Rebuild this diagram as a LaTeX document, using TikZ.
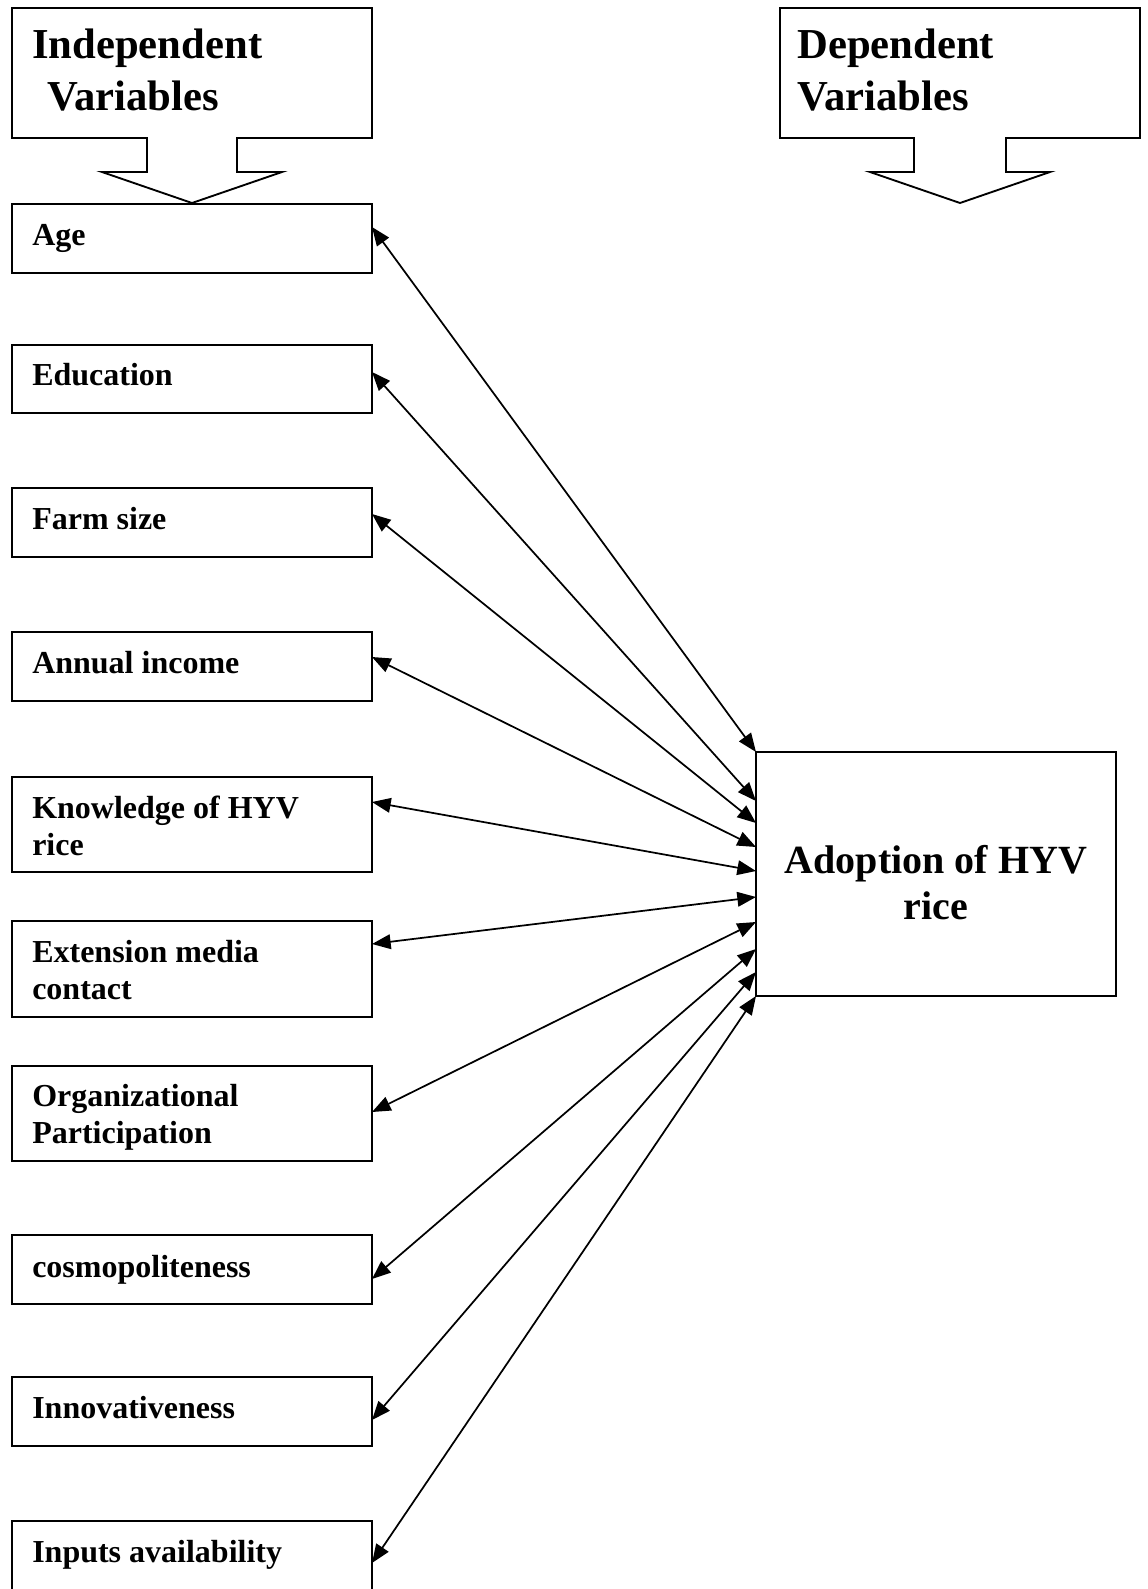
\documentclass[tikz,border=0pt]{standalone}
\usepackage{fontspec}
\setmainfont{Liberation Serif}
\usetikzlibrary{arrows.meta,calc,fit}
\begin{document}
\begin{tikzpicture}[x=0.75pt,y=-0.75pt,
  box/.style={draw, line width=1.6pt, inner sep=0pt, outer sep=0pt},
  callout/.style={draw, line width=1.4pt, line join=miter},
  item/.style={inner sep=0pt, anchor=base west, align=left, font=\fontsize{24}{27.4}\selectfont\bfseries},
  titletext/.style={inner sep=0pt, anchor=base west, align=left, font=\fontsize{32}{39}\selectfont\bfseries},
  bigtext/.style={inner sep=0pt, anchor=base, align=center, font=\fontsize{30}{34.5}\selectfont\bfseries},
  link/.style={{Triangle[length=14pt,width=11pt]}-{Triangle[length=14pt,width=11pt]}, line width=1.3pt}]
\useasboundingbox (0,0) rectangle (1147,1589);

% callout shapes
\draw[callout] (12,8) -- (372,8) -- (372,138) -- (237,138) -- (237,172) -- (282,172) -- (192,203) -- (102,172) -- (147,172) -- (147,138) -- (12,138) -- cycle;
\draw[callout] (780,8) -- (1140,8) -- (1140,138) -- (1006,138) -- (1006,172) -- (1050,172) -- (960,203) -- (870,172) -- (914,172) -- (914,138) -- (780,138) -- cycle;
% multi-line texts: base anchor = baseline of the last line
\node[titletext] (tind) at (32,110) {Independent\\\hspace*{11.25pt}Variables};
\node[titletext] (tdep) at (797,110) {Dependent\\Variables};

% boxes
\node[box, fit={(12,204)(372,273)}] (age) {};
\node[box, fit={(12,345)(372,413)}] (edu) {};
\node[box, fit={(12,488)(372,557)}] (farm) {};
\node[box, fit={(12,632)(372,701)}] (inc) {};
\node[box, fit={(12,777)(372,872)}] (know) {};
\node[box, fit={(12,921)(372,1017)}] (ext) {};
\node[box, fit={(12,1066)(372,1161)}] (org) {};
\node[box, fit={(12,1235)(372,1304)}] (cosmo) {};
\node[box, fit={(12,1377)(372,1446)}] (innov) {};
\node[box, fit={(12,1521)(372,1591)}] (inp) {};
\node[box, fit={(756,752)(1116,996)}] (adopt) {};

% texts
\node[item] (lage) at (32,245) {Age};
\node[item] (ledu) at (32,385) {Education};
\node[item] (lfarm) at (32,529) {Farm size};
\node[item] (linc) at (32,673) {Annual income};
\node[item] (lknow) at (32,855) {Knowledge of HYV\\rice};
\node[item] (lext) at (32,999) {Extension media\\contact};
\node[item] (lorg) at (32,1143.5) {Organizational\\Participation};
\node[item] (lcosmo) at (32,1277) {cosmopoliteness};
\node[item] (linnov) at (32,1418) {Innovativeness};
\node[item] (linp) at (32,1562) {Inputs availability};
\node[bigtext] (ladopt) at (936,919) {Adoption of HYV\\rice};

% links
\draw[link] ($(age.north east)+(0,23)$) -- ($(adopt.north west)+(0,0)$);
\draw[link] ($(edu.north east)+(0,27)$) -- ($(adopt.north west)+(0,49)$);
\draw[link] ($(farm.north east)+(0,26)$) -- ($(adopt.north west)+(0,71)$);
\draw[link] ($(inc.north east)+(0,25)$) -- ($(adopt.north west)+(0,95)$);
\draw[link] ($(know.north east)+(0,25)$) -- ($(adopt.north west)+(0,119)$);
\draw[link] ($(ext.north east)+(0,23)$) -- ($(adopt.north west)+(0,145)$);
\draw[link] ($(org.north east)+(0,46)$) -- ($(adopt.north west)+(0,170)$);
\draw[link] ($(cosmo.north east)+(0,44)$) -- ($(adopt.north west)+(0,197)$);
\draw[link] ($(innov.north east)+(0,43)$) -- ($(adopt.north west)+(0,220)$);
\draw[link] ($(inp.north east)+(0,42)$) -- ($(adopt.north west)+(0,244)$);
\end{tikzpicture}
\end{document}
